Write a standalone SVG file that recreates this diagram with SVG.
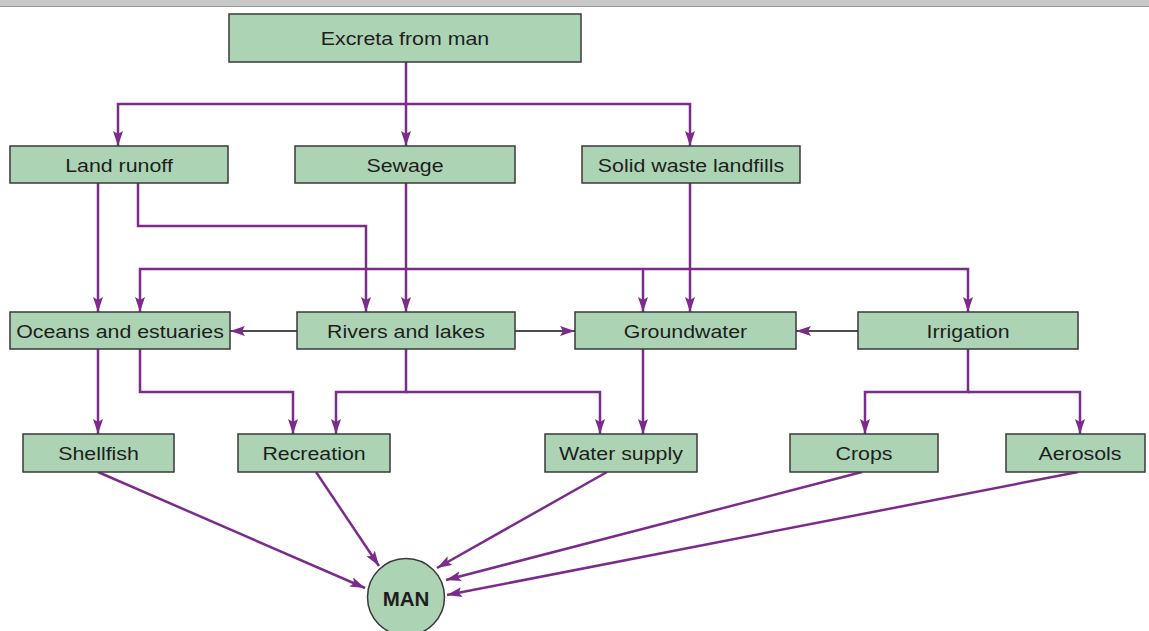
<svg xmlns="http://www.w3.org/2000/svg" width="1149" height="631" viewBox="0 0 1149 631">
  <defs>
    <marker id="arrow" markerUnits="userSpaceOnUse" markerWidth="16" markerHeight="12" refX="15" refY="5" orient="auto">
      <path d="M0,0 L15,5 L0,10 L3,5 z" fill="#7b2c8b"/>
    </marker>
    <style>
      .box { fill: #acd4b4; stroke: #3a3a3a; stroke-width: 1.5; }
      .lbl { font-family: "Liberation Sans", Arial, sans-serif; font-size: 18.5px; fill: #1e1e1e; text-anchor: middle; }
      .man { font-family: "Liberation Sans", Arial, sans-serif; font-size: 20.5px; font-weight: bold; fill: #1e1e1e; text-anchor: middle; }
      .flow { fill: none; stroke: #7b2c8b; stroke-width: 2.5; }
      .side { fill: none; stroke: #111; stroke-width: 1.6; }
    </style>
  </defs>

  <rect width="1149" height="631" fill="#ffffff"/>
  <!-- window strip along the top -->
  <rect x="0" y="0" width="1149" height="6" fill="#c8c8c8"/>
  <line x1="0" y1="6.5" x2="1149" y2="6.5" stroke="#9a9a9a" stroke-width="1"/>

  <g id="connectors">
    <!-- from excreta -->
    <path class="flow" d="M406,62 V146" marker-end="url(#arrow)"/>
    <path class="flow" d="M406,104 H118 V146" marker-end="url(#arrow)"/>
    <path class="flow" d="M406,104 H690 V146" marker-end="url(#arrow)"/>
    <!-- land runoff -->
    <path class="flow" d="M98,183 V312" marker-end="url(#arrow)"/>
    <path class="flow" d="M138,183 V226 H366 V312" marker-end="url(#arrow)"/>
    <!-- sewage, landfills -->
    <path class="flow" d="M406,183 V312" marker-end="url(#arrow)"/>
    <path class="flow" d="M690,183 V312" marker-end="url(#arrow)"/>
    <!-- distribution line -->
    <path class="flow" d="M643,269 H140 V312" marker-end="url(#arrow)"/>
    <path class="flow" d="M643,269 V312" marker-end="url(#arrow)"/>
    <path class="flow" d="M643,269 H968 V312" marker-end="url(#arrow)"/>
    <!-- side links -->
    <path class="side" d="M297,331 H230" marker-end="url(#arrow)"/>
    <path class="side" d="M515,331 H575" marker-end="url(#arrow)"/>
    <path class="side" d="M858,331 H796" marker-end="url(#arrow)"/>
    <!-- to exposure routes -->
    <path class="flow" d="M98,349 V434" marker-end="url(#arrow)"/>
    <path class="flow" d="M140,349 V392 H293 V434" marker-end="url(#arrow)"/>
    <path class="flow" d="M406,349 V392 H336 V434" marker-end="url(#arrow)"/>
    <path class="flow" d="M406,392 H600 V434" marker-end="url(#arrow)"/>
    <path class="flow" d="M643,349 V434" marker-end="url(#arrow)"/>
    <path class="flow" d="M968,349 V392 H865 V434" marker-end="url(#arrow)"/>
    <path class="flow" d="M968,392 H1080 V434" marker-end="url(#arrow)"/>
    <!-- to man -->
    <path class="flow" d="M98,472 L365,588" marker-end="url(#arrow)"/>
    <path class="flow" d="M316,472 L379,566" marker-end="url(#arrow)"/>
    <path class="flow" d="M607,472 L437,568" marker-end="url(#arrow)"/>
    <path class="flow" d="M862,472 L446,580" marker-end="url(#arrow)"/>
    <path class="flow" d="M1078,472 L447,595" marker-end="url(#arrow)"/>
  </g>

  <g id="excreta"><rect class="box" x="229" y="14" width="352" height="48"/><text class="lbl" transform="translate(405 45) scale(1.155 1)">Excreta from man</text></g>
  <g id="land-runoff"><rect class="box" x="10" y="146" width="218" height="37"/><text class="lbl" transform="translate(119 171.5) scale(1.155 1)">Land runoff</text></g>
  <g id="sewage"><rect class="box" x="295" y="146" width="220" height="37"/><text class="lbl" transform="translate(405 171.5) scale(1.155 1)">Sewage</text></g>
  <g id="landfills"><rect class="box" x="582" y="146" width="218" height="37"/><text class="lbl" transform="translate(691 171.5) scale(1.155 1)">Solid waste landfills</text></g>
  <g id="oceans"><rect class="box" x="10" y="312" width="220" height="37"/><text class="lbl" transform="translate(120 337.5) scale(1.155 1)">Oceans and estuaries</text></g>
  <g id="rivers"><rect class="box" x="297" y="312" width="218" height="37"/><text class="lbl" transform="translate(406 337.5) scale(1.155 1)">Rivers and lakes</text></g>
  <g id="groundwater"><rect class="box" x="575" y="312" width="221" height="37"/><text class="lbl" transform="translate(685.5 337.5) scale(1.155 1)">Groundwater</text></g>
  <g id="irrigation"><rect class="box" x="858" y="312" width="220" height="37"/><text class="lbl" transform="translate(968 337.5) scale(1.155 1)">Irrigation</text></g>
  <g id="shellfish"><rect class="box" x="23" y="434" width="151" height="38"/><text class="lbl" transform="translate(98.5 460) scale(1.155 1)">Shellfish</text></g>
  <g id="recreation"><rect class="box" x="238" y="434" width="152" height="38"/><text class="lbl" transform="translate(314 460) scale(1.155 1)">Recreation</text></g>
  <g id="water-supply"><rect class="box" x="545" y="434" width="152" height="38"/><text class="lbl" transform="translate(621 460) scale(1.155 1)">Water supply</text></g>
  <g id="crops"><rect class="box" x="790" y="434" width="148" height="38"/><text class="lbl" transform="translate(864 460) scale(1.155 1)">Crops</text></g>
  <g id="aerosols"><rect class="box" x="1006" y="434" width="139" height="38"/><text class="lbl" transform="translate(1080 460) scale(1.155 1)">Aerosols</text></g>
  <g id="man"><circle class="box" cx="406" cy="597" r="38.5"/><text class="man" x="406" y="606">MAN</text></g>
</svg>
